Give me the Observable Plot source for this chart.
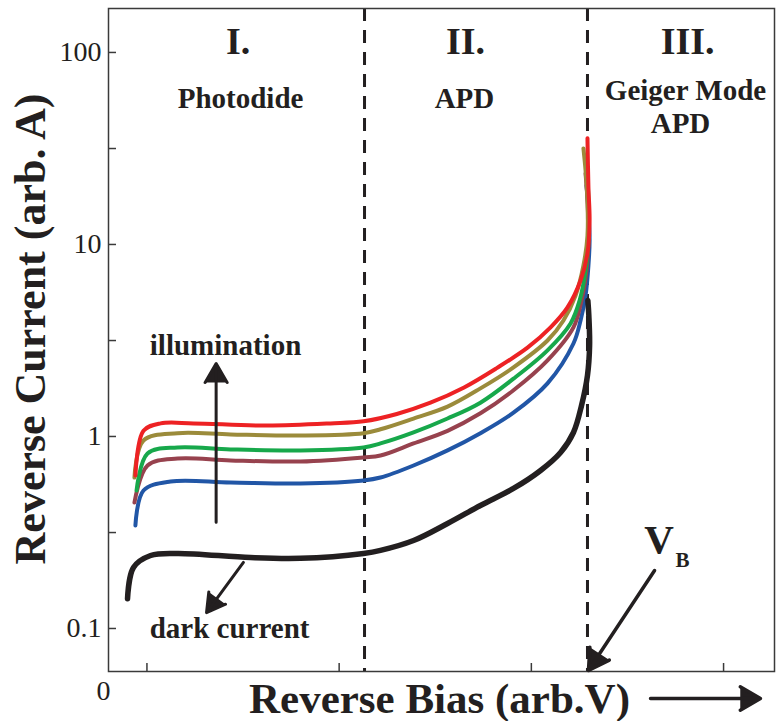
<!DOCTYPE html>
<html>
<head>
<meta charset="utf-8">
<script src="https://cdn.jsdelivr.net/npm/d3@7"></script>
<script src="https://cdn.jsdelivr.net/npm/@observablehq/plot@0.6"></script>
<style>
  html, body { margin: 0; padding: 0; background: #fff; }
  svg { display: block; }
</style>
</head>
<body>
<div id="chart"></div>
<script>
// ---- Curves: [reverse bias (arb. V), reverse current (arb. A)] ----
const darkCurrent = [
  [0.099, 0.143], [0.130, 0.208], [0.219, 0.240], [0.359, 0.246], [0.739, 0.234],
  [0.999, 0.232], [1.327, 0.246], [1.415, 0.255], [1.587, 0.287], [1.764, 0.352],
  [1.935, 0.437], [2.107, 0.536], [2.248, 0.665], [2.352, 0.825], [2.419, 1.049],
  [2.461, 1.45], [2.492, 2.08], [2.503, 2.98], [2.499, 4.27], [2.494, 5.11]
];
const blueCurve = [
  [0.140, 0.344], [0.182, 0.523], [0.323, 0.583], [0.635, 0.576], [0.999, 0.569],
  [1.327, 0.590], [1.415, 0.611], [1.587, 0.706], [1.764, 0.846], [1.935, 1.04],
  [2.107, 1.33], [2.284, 1.89], [2.419, 3.05], [2.456, 4.02], [2.482, 5.42],
  [2.497, 7.78], [2.503, 10.5], [2.497, 15.0], [2.487, 20.3]
];
const maroonCurve = [
  [0.135, 0.453], [0.203, 0.706], [0.359, 0.768], [0.635, 0.750], [0.999, 0.741],
  [1.327, 0.778], [1.415, 0.796], [1.587, 0.920], [1.764, 1.07], [1.935, 1.32],
  [2.107, 1.74], [2.284, 2.49], [2.419, 3.70], [2.461, 5.11], [2.487, 7.32],
  [2.497, 10.5], [2.492, 16.9], [2.482, 23.4]
];
const greenCurve = [
  [0.146, 0.523], [0.203, 0.816], [0.359, 0.877], [0.635, 0.856], [0.999, 0.846],
  [1.327, 0.877], [1.415, 0.920], [1.587, 1.05], [1.764, 1.24], [1.935, 1.50],
  [2.107, 2.00], [2.284, 2.81], [2.404, 3.88], [2.451, 5.11], [2.482, 7.32],
  [2.497, 10.5], [2.497, 16.9], [2.487, 27.4]
];
const goldCurve = [
  [0.135, 0.611], [0.182, 0.953], [0.359, 1.04], [0.635, 1.024], [0.999, 1.012],
  [1.327, 1.04], [1.415, 1.09], [1.587, 1.24], [1.764, 1.43], [1.935, 1.78],
  [2.107, 2.29], [2.284, 3.16], [2.367, 4.02], [2.430, 5.42], [2.471, 7.78],
  [2.492, 11.1], [2.492, 16.9], [2.482, 24.3], [2.471, 31.6]
];
const redCurve = [
  [0.140, 0.626], [0.182, 1.07], [0.271, 1.17], [0.442, 1.17], [0.827, 1.14],
  [1.155, 1.17], [1.327, 1.20], [1.500, 1.31], [1.675, 1.50], [1.850, 1.80],
  [2.020, 2.27], [2.180, 2.90], [2.300, 3.70], [2.388, 4.70], [2.456, 6.49],
  [2.492, 8.98], [2.503, 13.3], [2.497, 19.8], [2.492, 35.7]
];

const seriesNames  = ["dark", "level 1", "level 2", "level 3", "level 4", "level 5"];
const seriesColors = ["#231f20", "#2156a6", "#97424e", "#17a84b", "#9b8b3b", "#ed2224"];

// ---- Axes ----
const xDomain = [0, 3.465];
const yDomain = [0.0597, 169.4];
const yTickMarks = [0.1, 0.316, 1, 3.16, 10, 31.6, 100];
const yTickLabels = [0.1, 1, 10, 100];
const xTickMarks = [0.2, 1.2, 2.2, 3.2];
const xOriginLabel = [0];
const xTitle = "Reverse Bias (arb.V)";
const yTitle = "Reverse Current (arb. A)";

// ---- Region boundaries (dashed) ----
const regionBounds = [1.332, 2.492];

// ---- Annotations ----
const regionNumerals = [
  {text: "I.",   x: 0.674, y: 114},
  {text: "II.",  x: 1.857, y: 114},
  {text: "III.", x: 3.013, y: 114}
];
const regionNames = [
  {text: "Photodide",   x: 0.687, y: 57.3},
  {text: "APD",         x: 1.852, y: 57.3},
  {text: "Geiger Mode", x: 3.002, y: 63.4},
  {text: "APD",         x: 2.976, y: 42.7}
];
const curveNotes = [
  {text: "illumination", x: 0.609, y: 2.98},
  {text: "dark current", x: 0.630, y: 0.100}
];
const vbMain = [{text: "V", x: 2.864, y: 0.291}];
const vbSub  = [{text: "B", x: 2.986, y: 0.226}];
const arrows = [
  {x1: 0.560, y1: 0.358, x2: 0.560, y2: 2.40},    // illumination
  {x1: 0.702, y1: 0.221, x2: 0.510, y2: 0.121},   // dark current
  {x1: 2.841, y1: 0.2005, x2: 2.497, y2: 0.0604}, // V_B
  {x1: 2.820, y1: 0.0432, x2: 3.392, y2: 0.0432}  // x-axis direction
];

const curves = [darkCurrent, blueCurve, maroonCurve, greenCurve, goldCurve, redCurve];
const lineData = curves.flatMap((c, i) => c.map(([x, y]) => ({series: seriesNames[i], x, y})));

const W = 776, H = 721, mL = 108, mR = 2, mT = 8, mB = 50;
const innerW = W - mL - mR, innerH = H - mT - mB;
const ink = "#231f20";
const bold = {fontWeight: "bold", fill: ink};

const chart = Plot.plot({
  width: W, height: H,
  marginLeft: mL, marginRight: mR, marginTop: mT, marginBottom: mB,
  style: {fontFamily: "'Liberation Serif', serif", fontSize: "28px", background: "#fff", color: ink},
  x: {domain: xDomain},
  y: {type: "log", domain: yDomain},
  color: {type: "ordinal", domain: seriesNames, range: seriesColors},
  marks: [
    Plot.ruleX(regionBounds, {x: d => d, stroke: ink, strokeWidth: 3, strokeDasharray: "13,9"}),
    Plot.line(lineData.filter(d => d.series !== "dark"), {
      x: "x", y: "y", z: "series", stroke: "series", strokeWidth: 4, curve: "catmull-rom"
    }),
    Plot.line(lineData.filter(d => d.series === "dark"), {
      x: "x", y: "y", stroke: ink, strokeWidth: 5.5, curve: "catmull-rom"
    }),
    Plot.frame({stroke: "#3a3a3a", strokeWidth: 1.5}),
    Plot.tickY(yTickMarks, {y: d => d, insetRight: innerW - 8, stroke: "#3a3a3a", strokeWidth: 1.5}),
    Plot.tickX(xTickMarks, {x: d => d, insetTop: innerH - 8, stroke: "#3a3a3a", strokeWidth: 1.5}),
    Plot.axisY({ticks: yTickLabels, tickSize: 0, tickPadding: 7, tickFormat: d => `${d}`, label: null}),
    Plot.axisX({ticks: xOriginLabel, tickSize: 0, tickPadding: 9, tickFormat: () => "0", label: null, dx: -5}),
    Plot.text([xTitle], {frameAnchor: "bottom", textAnchor: "middle", lineAnchor: "middle",
      dx: -2, dy: 28, fontSize: 43, ...bold}),
    Plot.text([yTitle], {frameAnchor: "left", textAnchor: "middle", lineAnchor: "middle",
      rotate: -90, dx: -78, dy: -11, fontSize: 44, ...bold}),
    Plot.arrow(arrows.slice(0, 2), {x1: "x1", y1: "y1", x2: "x2", y2: "y2", stroke: ink, fill: ink,
      strokeWidth: 3, headLength: 11, headAngle: 60, clip: false}),
    Plot.arrow(arrows.slice(2), {x1: "x1", y1: "y1", x2: "x2", y2: "y2", stroke: ink, fill: ink,
      strokeWidth: 3.5, headLength: 10, headAngle: 60, clip: false}),
    Plot.text(regionNumerals, {x: "x", y: "y", text: "text", fontSize: 38, ...bold}),
    Plot.text(regionNames, {x: "x", y: "y", text: "text", fontSize: 29, ...bold}),
    Plot.text(curveNotes, {x: "x", y: "y", text: "text", fontSize: 29, ...bold}),
    Plot.text(vbMain, {x: "x", y: "y", text: "text", fontSize: 41, ...bold}),
    Plot.text(vbSub, {x: "x", y: "y", text: "text", fontSize: 21, ...bold})
  ]
});
document.getElementById("chart").append(chart);
</script>
</body>
</html>
